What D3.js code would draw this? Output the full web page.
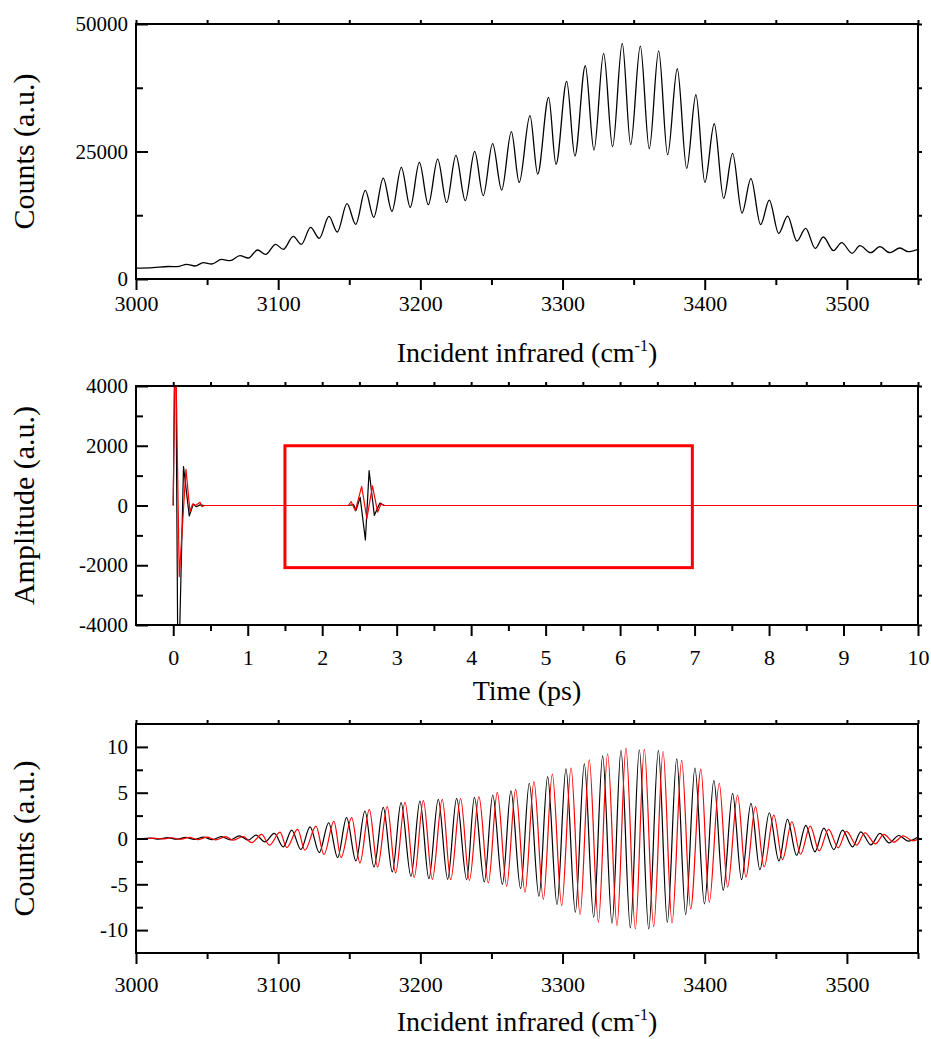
<!DOCTYPE html>
<html>
<head>
<meta charset="utf-8">
<script src="https://cdn.jsdelivr.net/npm/d3@7"></script>
<style>
  body { margin: 0; background: #fff; }
  svg { display: block; }
</style>
</head>
<body>
<div id="chart"></div>
<script>
// ---------- data ----------

// top panel: spectrum, [wavenumber cm-1, counts] at peaks and valleys
const spectrum = [
  [3000, 2150], [3012, 2250], [3023, 2450], [3029, 2420],
  [3035.6, 2872], [3041.5, 2548], [3047.3, 3200], [3053.2, 2940],
  [3060.2, 3855], [3066.1, 3593], [3073.1, 4574], [3079.0, 4116],
  [3085.5, 5684], [3091.2, 4835], [3098.2, 6795], [3103.6, 5815],
  [3110.6, 8363], [3116.3, 6795], [3122.8, 10127], [3128.9, 7971],
  [3135.7, 12283], [3141.6, 9212], [3148.4, 14765], [3154.5, 10715],
  [3161.3, 17379], [3167.2, 12087], [3173.9, 19796], [3180.0, 13263],
  [3186.6, 21886], [3192.9, 14047], [3199.3, 22866], [3205.6, 14570],
  [3212.2, 23520], [3218.5, 14962], [3225.0, 24239], [3231.6, 15354],
  [3238.2, 25023], [3244.2, 16334], [3250.8, 26527], [3257.2, 17444],
  [3264.0, 28879], [3269.5, 18940], [3277.1, 32015], [3282.5, 20580],
  [3290.2, 35607], [3295.4, 22473], [3302.9, 38743], [3308.7, 24108],
  [3316.0, 41813], [3322.1, 25284], [3328.9, 44227], [3335.2, 25937],
  [3342.0, 46187], [3347.9, 26331], [3354.7, 45668], [3361.0, 25545],
  [3367.6, 44749], [3373.9, 24370], [3380.7, 41226], [3387.3, 21690],
  [3393.8, 36123], [3400.1, 18945], [3406.7, 30440], [3413.3, 15810],
  [3419.6, 24636], [3426.2, 12936], [3432.5, 19667], [3439.3, 10650],
  [3445.4, 15484], [3452.0, 8950], [3458.3, 12348], [3464.8, 7448],
  [3471.0, 9931], [3477.7, 6010], [3483.4, 8232], [3490.6, 5553],
  [3496.3, 7121], [3503.7, 5030], [3509.1, 6534], [3516.7, 5161],
  [3523.2, 6338], [3530.2, 5161], [3537.3, 6076], [3543.1, 5357],
  [3550, 5815]
];

// middle panel: time trace, [ps, amplitude] (black and red)
const timeBlack = [
  [0, 0], [0.03, 7000], [0.065, -6500], [0.138, 1300], [0.215, -350],
  [0.27, 50], [0.31, -40], [0.36, 20], [0.42, 0],
  [2.35, 0], [2.42, 30], [2.455, -160], [2.51, 270], [2.58, -1155],
  [2.63, 1165], [2.70, -330], [2.775, 80], [2.83, 0], [10, 0]
];
const timeRed = [
  [0, 0], [0.025, 6500], [0.081, -2380], [0.171, 1210], [0.225, -207],
  [0.26, 50], [0.30, 0], [0.36, 107], [0.385, -40], [0.42, 0],
  [2.35, 0], [2.39, 128], [2.445, -180], [2.53, 640], [2.60, -440],
  [2.675, 660], [2.745, -220], [2.79, 60], [2.84, 0], [10, 0]
];
// the red window drawn on the time trace
const windowTime = [1.5, 6.97];
const windowAmp = [-2080, 2000];

// bottom panel: filtered spectra, [wavenumber cm-1, counts]
const filteredBlack = [
  [3000, 0], [3004, -0.03], [3010, 0.05], [3016, -0.06], [3022, 0.1],
  [3028.5, -0.08], [3035, 0.12], [3041, -0.1], [3047.5, 0.15], [3053.5, -0.13],
  [3060, 0.2], [3066.5, -0.15], [3072.7, 0.29], [3079.0, -0.18], [3084.4, 0.37],
  [3090.7, -0.37], [3097.3, 0.55], [3103.6, -0.91], [3109.5, 0.91], [3116.0, -1.21],
  [3122.4, 1.28], [3128.9, -1.54], [3135.5, 1.72], [3141.8, -2.08], [3148.1, 2.27],
  [3154.7, -2.45], [3161.0, 3.0], [3167.4, -3.11], [3173.9, 3.40], [3180.3, -3.65],
  [3186.4, 3.91], [3193.4, -4.13], [3199.7, 4.09], [3206.0, -4.39], [3212.6, 4.28],
  [3219.2, -4.46], [3225.5, 4.39], [3232.6, -4.50], [3238.0, 4.50], [3245.0, -4.75],
  [3250.9, 4.75], [3257.7, -5.01], [3263.7, 5.19], [3270.5, -5.48], [3276.6, 6.03],
  [3283.4, -6.32], [3289.5, 6.76], [3296.1, -7.20], [3302.4, 7.60], [3309.0, -8.04],
  [3315.3, 8.15], [3321.9, -8.59], [3328.2, 9.03], [3334.8, -9.25], [3341.1, 9.61],
  [3347.7, -9.76], [3354.0, 9.69], [3360.6, -9.87], [3367.4, 9.61], [3373.7, -9.14],
  [3380.3, 8.70], [3386.6, -8.30], [3393.1, 7.68], [3399.8, -7.13], [3406.4, 6.32],
  [3413.0, -5.67], [3419.6, 4.93], [3425.9, -4.50], [3432.5, 3.84], [3438.8, -3.40],
  [3445.4, 2.81], [3452.2, -2.45], [3458.2, 2.08], [3464.6, -1.83], [3471.1, 1.43],
  [3477.5, -1.46], [3483.8, 1.13], [3490.8, -1.21], [3496.9, 0.91], [3504.0, -0.91],
  [3509.8, 0.73], [3516.9, -0.69], [3523.2, 0.55], [3529.7, -0.48], [3536.5, 0.33],
  [3543.1, -0.29], [3550, 0.15]
];
const filteredRed = [
  [3000, 0], [3006, -0.03], [3012.5, 0.05], [3018.5, -0.05], [3025, 0.08],
  [3031, -0.08], [3037.5, 0.12], [3043.5, -0.12], [3050, 0.15], [3056, -0.15],
  [3063, 0.2], [3068.4, -0.18], [3075.5, 0.22], [3081.3, -0.45], [3088.4, 0.44],
  [3093.8, -0.73], [3101.3, 0.69], [3106.0, -0.99], [3113.7, 0.99], [3118.8, -1.28],
  [3126.6, 1.35], [3132.2, -1.75], [3139.2, 1.86], [3144.2, -2.08], [3151.7, 2.27],
  [3157.5, -2.67], [3164.1, 3.18], [3169.9, -3.11], [3176.7, 3.47], [3182.6, -3.76],
  [3189.2, 3.95], [3195.7, -4.24], [3202.1, 4.13], [3208.4, -4.46], [3215.4, 4.28],
  [3221.3, -4.50], [3228.3, 4.35], [3234.5, -4.57], [3241.2, 4.57], [3247.8, -4.86],
  [3254.1, 5.04], [3260.7, -5.19], [3267.0, 5.37], [3273.6, -5.85], [3279.9, 6.21],
  [3286.5, -6.65], [3292.8, 7.02], [3299.4, -7.31], [3306.0, 7.68], [3312.3, -8.30],
  [3318.8, 8.59], [3325.2, -9.14], [3331.7, 9.25], [3338.3, -9.50], [3344.6, 9.87],
  [3351.2, -9.87], [3357.5, 9.76], [3364.1, -9.61], [3370.7, 9.50], [3377.0, -9.21],
  [3383.8, 8.52], [3390.1, -7.68], [3397.3, 7.57], [3403.2, -6.94], [3410.2, 6.03],
  [3416.1, -5.30], [3423.1, 4.75], [3429.0, -4.20], [3435.7, 3.47], [3441.8, -3.11],
  [3448.6, 2.56], [3454.7, -2.30], [3461.3, 1.83], [3467.4, -1.72], [3474.2, 1.35],
  [3480.5, -1.35], [3487.1, 0.99], [3493.9, -1.02], [3499.7, 0.77], [3506.8, -0.73],
  [3512.6, 0.62], [3520.1, -0.58], [3526.0, 0.44], [3533.0, -0.40], [3539.6, 0.29],
  [3546.6, -0.26], [3550, -0.1]
];

// ticks
const wnTicks = [3000, 3100, 3200, 3300, 3400, 3500];
const wnMinor = [3050, 3150, 3250, 3350, 3450, 3550];
const countTicks = [0, 25000, 50000];
const countMinor = [12500, 37500];
const timeTicks = [0, 1, 2, 3, 4, 5, 6, 7, 8, 9, 10];
const timeMinor = [0.5, 1.5, 2.5, 3.5, 4.5, 5.5, 6.5, 7.5, 8.5, 9.5];
const ampTicks = [-4000, -2000, 0, 2000, 4000];
const ampMinor = [-3000, -1000, 1000, 3000];
const filtTicks = [-10, -5, 0, 5, 10];
const filtMinor = [-7.5, -2.5, 2.5, 7.5];

// ---------- layout ----------
const width = 931;
const height = 1039;
const plotLeft = 136;
const plotRight = 918;
const font = '"Liberation Serif", "Times New Roman", serif';
const xTickFont = 22;
const yTickFont = 21;
const xTitleFont = 28;
const yTitleFont = 30;

const svg = d3
  .select("#chart")
  .append("svg")
  .attr("width", width)
  .attr("height", height)
  .style("font-family", font);

function styleAxis(size) {
  return function (g) {
    g.select(".domain").remove();
    g.selectAll("line").attr("stroke", "#000").attr("stroke-width", 2);
    g.attr("font-family", font).attr("font-size", size);
    g.selectAll("text").attr("fill", "#000");
  };
}

function panel(cfg) {
  const x = d3.scaleLinear().domain(cfg.xDomain).range([plotLeft, plotRight]);
  const y = d3.scaleLinear().domain(cfg.yDomain).range([cfg.bottom, cfg.top]);
  const g = svg.append("g");

  // clip the traces to the plot frame
  const clipId = "clip-" + cfg.id;
  svg
    .append("clipPath")
    .attr("id", clipId)
    .append("rect")
    .attr("x", plotLeft)
    .attr("y", cfg.top)
    .attr("width", plotRight - plotLeft)
    .attr("height", cfg.bottom - cfg.top);

  cfg.series.forEach((s) => {
    const line = d3
      .line()
      .x((d) => x(d[0]))
      .y((d) => y(d[1]))
      .curve(s.curve || d3.curveLinear);
    g.append("path")
      .datum(s.data)
      .attr("clip-path", `url(#${clipId})`)
      .attr("fill", "none")
      .attr("stroke", s.color)
      .attr("stroke-width", s.width)
      .attr("stroke-linejoin", "round")
      .attr("d", line);
  });

  // bottom axis, ticks outward
  g.append("g")
    .attr("transform", `translate(0,${cfg.bottom})`)
    .call(
      d3.axisBottom(x).tickValues(cfg.xTicks).tickSize(11).tickPadding(cfg.xPad)
        .tickFormat((d) => String(d))
    )
    .call(styleAxis(xTickFont));
  g.append("g")
    .attr("transform", `translate(0,${cfg.bottom})`)
    .call(d3.axisBottom(x).tickValues(cfg.xMinor).tickSize(6).tickFormat(""))
    .call(styleAxis(xTickFont));

  // left axis, ticks inward
  g.append("g")
    .attr("transform", `translate(${plotLeft},0)`)
    .call(
      d3.axisLeft(y).tickValues(cfg.yTicks).tickSize(-12).tickPadding(8)
        .tickFormat((d) => String(d))
    )
    .call(styleAxis(yTickFont));
  g.append("g")
    .attr("transform", `translate(${plotLeft},0)`)
    .call(d3.axisLeft(y).tickValues(cfg.yMinor).tickSize(-7).tickFormat(""))
    .call(styleAxis(yTickFont));

  // mirrored short ticks on top and right
  g.append("g")
    .attr("transform", `translate(${plotRight},0)`)
    .call(d3.axisRight(y).tickValues(cfg.yTicks.concat(cfg.yMinor)).tickSize(4).tickFormat(""))
    .call(styleAxis(yTickFont));
  g.append("g")
    .attr("transform", `translate(0,${cfg.top})`)
    .call(d3.axisTop(x).tickValues(cfg.xTicks.concat(cfg.xMinor)).tickSize(4).tickFormat(""))
    .call(styleAxis(xTickFont));

  // frame
  g.append("rect")
    .attr("x", plotLeft)
    .attr("y", cfg.top)
    .attr("width", plotRight - plotLeft)
    .attr("height", cfg.bottom - cfg.top)
    .attr("fill", "none")
    .attr("stroke", "#000")
    .attr("stroke-width", 2);

  // x title
  const xt = g.append("text")
    .attr("x", (plotLeft + plotRight) / 2)
    .attr("y", cfg.xTitleY)
    .attr("text-anchor", "middle")
    .attr("font-size", xTitleFont)
    .text(cfg.xTitle);
  if (cfg.xTitleSup) {
    xt.append("tspan").attr("font-size", 16).attr("dy", -11).text(cfg.xTitleSup);
    xt.append("tspan").attr("dy", 11).text(")");
  }

  // y title
  g.append("text")
    .attr("transform", `translate(${cfg.yTitleX},${(cfg.top + cfg.bottom) / 2}) rotate(-90)`)
    .attr("text-anchor", "middle")
    .attr("font-size", yTitleFont)
    .text(cfg.yTitle);

  return { x, y, g };
}

// top: measured spectrum
panel({
  id: "top",
  top: 24,
  bottom: 279,
  xDomain: [3000, 3550],
  yDomain: [0, 50000],
  xTicks: wnTicks,
  xMinor: wnMinor,
  yTicks: countTicks,
  yMinor: countMinor,
  xPad: 5,
  xTitle: "Incident infrared (cm",
  xTitleSup: "-1",
  xTitleY: 362,
  yTitle: "Counts (a.u.)",
  yTitleX: 34,
  series: [
    { data: spectrum, color: "#000", width: 1.3, curve: d3.curveMonotoneX }
  ]
});

// middle: time domain
const mid = panel({
  id: "mid",
  top: 386,
  bottom: 625,
  xDomain: [-0.5, 10],
  yDomain: [-4000, 4000],
  xTicks: timeTicks,
  xMinor: timeMinor,
  yTicks: ampTicks,
  yMinor: ampMinor,
  xPad: 13,
  xTitle: "Time (ps)",
  xTitleY: 700,
  yTitle: "Amplitude (a.u.)",
  yTitleX: 34,
  series: [
    { data: timeBlack, color: "#000", width: 1.2 },
    { data: timeRed, color: "#ff0000", width: 1.2 }
  ]
});

mid.g
  .append("rect")
  .attr("x", mid.x(windowTime[0]))
  .attr("y", mid.y(windowAmp[1]))
  .attr("width", mid.x(windowTime[1]) - mid.x(windowTime[0]))
  .attr("height", mid.y(windowAmp[0]) - mid.y(windowAmp[1]))
  .attr("fill", "none")
  .attr("stroke", "#ff0000")
  .attr("stroke-width", 3);

// bottom: filtered spectra
panel({
  id: "bot",
  top: 724,
  bottom: 953,
  xDomain: [3000, 3550],
  yDomain: [-12.5, 12.5],
  xTicks: wnTicks,
  xMinor: wnMinor,
  yTicks: filtTicks,
  yMinor: filtMinor,
  xPad: 12,
  xTitle: "Incident infrared (cm",
  xTitleSup: "-1",
  xTitleY: 1031,
  yTitle: "Counts (a.u.)",
  yTitleX: 34,
  series: [
    { data: filteredBlack, color: "#000", width: 1.2, curve: d3.curveMonotoneX },
    { data: filteredRed, color: "#ff0000", width: 1.2, curve: d3.curveMonotoneX }
  ]
});
</script>
</body>
</html>
